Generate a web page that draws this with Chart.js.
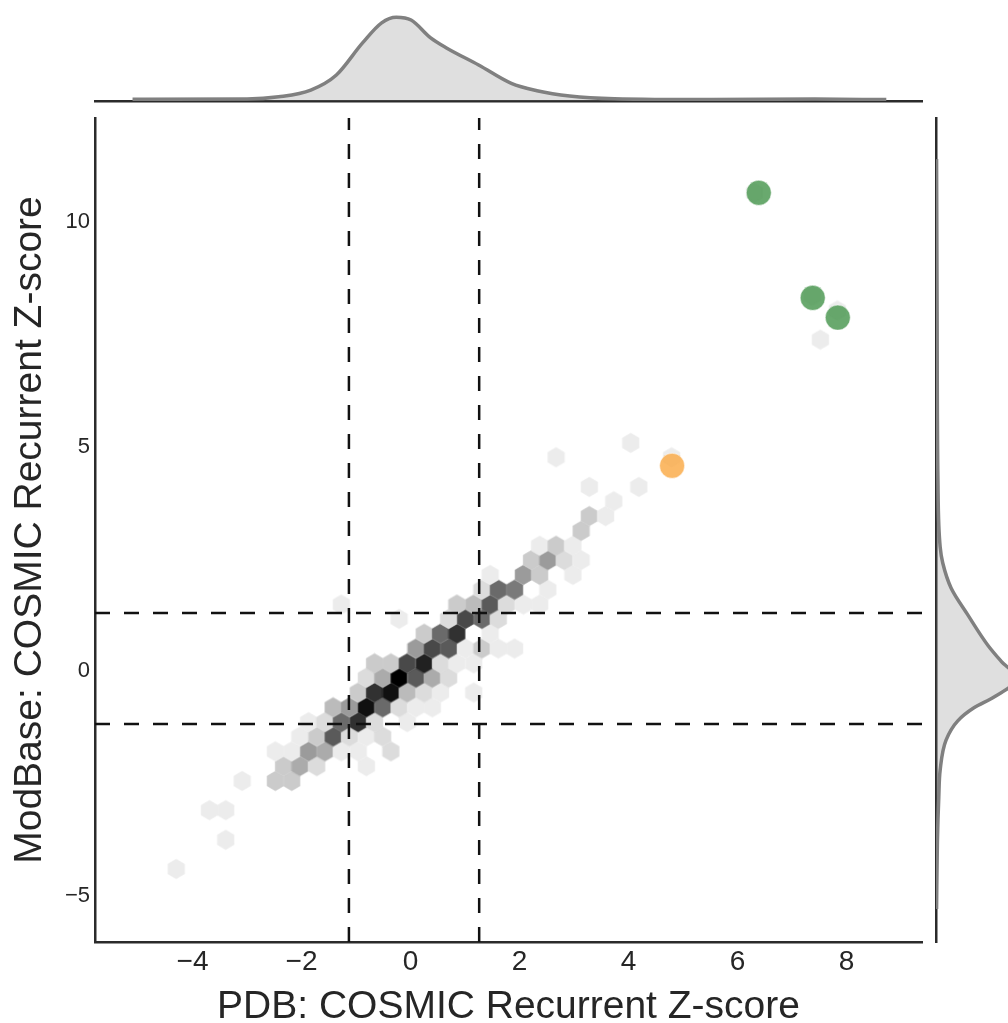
<!DOCTYPE html>
<html>
<head>
<meta charset="utf-8">
<script src="https://cdn.jsdelivr.net/npm/chart.js@4.4.1/dist/chart.umd.min.js"></script>
<style>
  html, body { margin: 0; padding: 0; background: #fff; overflow: hidden; }
  canvas { position: absolute; }
  #mainChart { left: 0; top: 0; }
  #topChart { left: 0; top: 0; }
  #rightChart { left: 900px; top: 0; }
</style>
</head>
<body>
<canvas id="mainChart" width="1008" height="1023"></canvas>
<canvas id="topChart" width="1008" height="110"></canvas>
<canvas id="rightChart" width="108" height="1023"></canvas>
<script>
// ── Hexbin cells: one lattice row per line (row y, cell x's, cell counts)
var hexRowY = [-4.41, -3.76, -3.10, -2.45, -2.12, -1.79, -1.46, -1.14, -0.81, -0.48,
               -0.15, 0.17, 0.50, 0.83, 1.16, 1.48, 1.81, 2.14, 2.47, 2.79,
               3.12, 3.45, 3.78, 4.10, 4.76, 5.08, 7.38, 8.03, 8.36, 10.65];
var hexRowX = [
  [-4.30],
  [-3.39],
  [-3.69, -3.39],
  [-3.09, -2.48, -2.18],
  [-2.33, -2.03, -1.72, -0.81],
  [-2.48, -2.18, -1.87, -1.57, -1.27, -0.96, -0.36],
  [-2.03, -1.72, -1.42, -1.12, -0.81, -0.51],
  [-1.87, -1.57, -1.27, -0.96, -0.66, -0.06],
  [-1.42, -1.12, -0.81, -0.51, -0.21, 0.10, 0.40],
  [-0.96, -0.66, -0.36, -0.06, 0.25, 0.55, 1.16],
  [-0.81, -0.51, -0.21, 0.10, 0.40, 0.70],
  [-0.66, -0.36, -0.06, 0.25, 0.55, 0.85, 1.16],
  [0.10, 0.40, 0.70, 1.01, 1.31, 1.61, 1.91],
  [0.25, 0.55, 0.85, 1.46],
  [-0.21, 0.70, 1.01, 1.31, 1.61],
  [-1.27, 0.85, 1.16, 1.46, 1.76, 2.07, 2.37],
  [1.31, 1.61, 1.91, 2.52],
  [1.46, 2.07, 2.37, 2.98],
  [2.22, 2.52, 2.82, 3.13],
  [2.37, 2.67, 2.98],
  [3.13],
  [3.28, 3.58],
  [3.73],
  [3.28, 4.19],
  [2.67, 4.79],
  [4.04],
  [7.52],
  [7.83],
  [7.37],
  [6.31]
];
var hexRowCount = [
  [1],
  [1],
  [1, 1],
  [1, 5, 5],
  [5, 9, 3, 1],
  [1, 1, 11, 9, 1, 1, 3],
  [1, 5, 19, 3, 1, 3],
  [1, 3, 17, 24, 3, 1],
  [7, 11, 28, 17, 3, 1, 1],
  [5, 24, 28, 7, 3, 1, 1],
  [3, 9, 30, 19, 9, 3],
  [5, 5, 21, 26, 3, 1, 1],
  [11, 21, 19, 1, 5, 1, 1],
  [5, 17, 24, 1],
  [1, 3, 21, 17, 3],
  [1, 5, 7, 19, 3, 1, 1],
  [3, 17, 15, 1],
  [1, 11, 5, 1],
  [5, 11, 3, 1],
  [1, 5, 1],
  [5],
  [5, 1],
  [1],
  [1, 1],
  [1, 1],
  [1],
  [1],
  [1],
  [1],
  [1]
];

// highlighted points
var greenX = [6.39, 7.38, 7.84];
var greenY = [10.65, 8.31, 7.87];
var orangeX = [4.80];
var orangeY = [4.57];

// threshold lines
var vLineX = [-1.13, 1.26];
var hLineY = [1.29, -1.18];

// marginal KDEs
var topX = [-5.1, -3.0, -2.42, -1.83, -1.36, -0.88, -0.53, -0.26, 0.01, 0.37, 0.66, 1.25, 1.85, 2.32, 2.92, 3.74, 5.52, 7.42, 8.73];
var topD = [0.006, 0.007, 0.015, 0.039, 0.093, 0.208, 0.28, 0.30, 0.29, 0.226, 0.19, 0.129, 0.063, 0.037, 0.018, 0.008, 0.005, 0.007, 0.005];
var rightY = [-5.3, -3.8, -2.81, -2.2, -1.54, -1.11, -0.82, -0.58, -0.17, 0.22, 0.58, 1.25, 1.85, 2.41, 2.76, 4.23, 8.0, 11.4];
var rightD = [0.002, 0.005, 0.010, 0.015, 0.036, 0.078, 0.136, 0.208, 0.29, 0.233, 0.185, 0.114, 0.054, 0.024, 0.015, 0.007, 0.004, 0.002];

// ticks
var xTicks = [-4, -2, 0, 2, 4, 6, 8];
var yTicks = [-5, 0, 5, 10];

// axis limits / geometry
var X_MIN = -5.789, X_MAX = 9.385;
var Y_MIN = -6.036, Y_MAX = 12.316;
var TOP_D_MAX = 0.326, RIGHT_D_MAX = 0.258;
var HEX_DX = 0.3031;   // hex width (data units)
var HEX_DY = 0.6548;   // hex lattice row pitch (data units)
var COUNT_MAX = 30;

var FONT = "'Liberation Sans', Arial, sans-serif";
var INK = '#262626';
var SPINE = '#2b2b2b';

Chart.defaults.font.family = FONT;

function fmtTick(v) {
  return v < 0 ? '\u2212' + Math.abs(v) : String(v);
}

// hexagon pointStyle images, cached by grey level + size
var hexCache = {};
function hexGray(c) {
  return Math.round(236 * (1 - (c - 1) / (COUNT_MAX - 1)));
}
function hexStyle(ctx) {
  var raw = ctx.raw;
  if (!raw) return 'circle';
  var sx = ctx.chart.scales.x, sy = ctx.chart.scales.y;
  var w = Math.abs(sx.getPixelForValue(HEX_DX) - sx.getPixelForValue(0));
  var h = Math.abs(sy.getPixelForValue(HEX_DY) - sy.getPixelForValue(0)) * 2 / 3;
  var g = hexGray(raw.c);
  var key = g + '_' + w.toFixed(2) + '_' + h.toFixed(2);
  if (!hexCache[key]) {
    var cv = document.createElement('canvas');
    cv.width = Math.ceil(w) + 2;
    cv.height = Math.ceil(h) + 2;
    var c2 = cv.getContext('2d');
    var cx = cv.width / 2, cy = cv.height / 2;
    c2.beginPath();
    c2.moveTo(cx, cy - h / 2);
    c2.lineTo(cx + w / 2, cy - h / 4);
    c2.lineTo(cx + w / 2, cy + h / 4);
    c2.lineTo(cx, cy + h / 2);
    c2.lineTo(cx - w / 2, cy + h / 4);
    c2.lineTo(cx - w / 2, cy - h / 4);
    c2.closePath();
    var col = 'rgb(' + g + ',' + g + ',' + g + ')';
    c2.fillStyle = col;
    c2.fill();
    c2.strokeStyle = col;
    c2.lineWidth = 0.6;
    c2.stroke();
    hexCache[key] = cv;
  }
  return hexCache[key];
}

var hexCells = [];
hexRowY.forEach(function(y, r) {
  hexRowX[r].forEach(function(x, k) {
    hexCells.push({x: x, y: y, c: hexRowCount[r][k]});
  });
});

var dashSets = [];
vLineX.forEach(function(x) {
  dashSets.push({data: [{x: x, y: Y_MIN}, {x: x, y: Y_MAX}]});
});
hLineY.forEach(function(y) {
  dashSets.push({data: [{x: X_MIN, y: y}, {x: X_MAX, y: y}]});
});
dashSets = dashSets.map(function(d) {
  return {
    data: d.data, showLine: true, borderColor: '#111', borderWidth: 2.5,
    borderDash: [15, 14], pointRadius: 0, fill: false, order: 1
  };
});

// ── main joint panel
new Chart(document.getElementById('mainChart'), {
  type: 'scatter',
  data: {
    datasets: [
      {
        label: 'green', order: 0,
        data: greenX.map(function(x, i){ return {x: x, y: greenY[i]}; }),
        pointRadius: 12.5, backgroundColor: 'rgba(72,150,78,0.82)',
        borderColor: 'rgba(255,255,255,0.5)', borderWidth: 1
      },
      {
        label: 'orange', order: 0,
        data: orangeX.map(function(x, i){ return {x: x, y: orangeY[i]}; }),
        pointRadius: 12.5, backgroundColor: 'rgba(250,170,70,0.82)',
        borderColor: 'rgba(255,255,255,0.5)', borderWidth: 1
      }
    ].concat(dashSets).concat([
      {
        label: 'hexbin', order: 2,
        data: hexCells,
        pointStyle: hexStyle,
        pointRadius: 9
      }
    ])
  },
  options: {
    responsive: false,
    animation: false,
    events: [],
    layout: { padding: { top: 118, right: 86, left: 0, bottom: 0 } },
    plugins: { legend: { display: false }, tooltip: { enabled: false } },
    scales: {
      x: {
        type: 'linear', min: X_MIN, max: X_MAX,
        afterBuildTicks: function(s){ s.ticks = xTicks.map(function(v){ return {value: v}; }); },
        afterFit: function(s){ s.height = 81; },
        grid: { display: false, drawTicks: false },
        border: { display: true, color: SPINE, width: 2.5 },
        ticks: { padding: 3, color: INK, font: { size: 28 }, callback: fmtTick, autoSkip: false, maxRotation: 0 },
        title: { display: true, text: 'PDB: COSMIC Recurrent Z-score', color: INK,
                 font: { size: 39, lineHeight: 0.8 }, padding: 0 }
      },
      y: {
        type: 'linear', min: Y_MIN, max: Y_MAX,
        afterBuildTicks: function(s){ s.ticks = yTicks.map(function(v){ return {value: v}; }); },
        afterFit: function(s){ s.width = 95; },
        grid: { display: false, drawTicks: false },
        border: { display: true, color: SPINE, width: 2.5 },
        ticks: { padding: 5, color: INK, font: { size: 22 }, callback: fmtTick, autoSkip: false },
        title: { display: true, text: 'ModBase: COSMIC Recurrent Z-score', color: INK,
                 font: { size: 39, lineHeight: 0.8 }, padding: { top: 15, bottom: 0 } }
      }
    }
  }
});

// ── top marginal KDE
new Chart(document.getElementById('topChart'), {
  type: 'line',
  data: {
    datasets: [{
      data: topX.map(function(x, i){ return {x: x, y: topD[i]}; }),
      borderColor: '#808080', borderWidth: 3.5,
      backgroundColor: 'rgba(128,128,128,0.25)', fill: 'origin',
      pointRadius: 0, cubicInterpolationMode: 'monotone'
    }]
  },
  options: {
    responsive: false, animation: false, events: [],
    layout: { padding: { left: 95, right: 86, top: 10, bottom: 0 } },
    plugins: { legend: { display: false }, tooltip: { enabled: false } },
    scales: {
      x: {
        type: 'linear', min: X_MIN, max: X_MAX,
        ticks: { display: false },
        grid: { display: false, drawTicks: false },
        border: { display: true, color: SPINE, width: 2.5 },
        afterFit: function(s){ s.height = 9; }
      },
      y: { type: 'linear', min: 0, max: TOP_D_MAX, display: false }
    }
  }
});

// ── right marginal KDE
new Chart(document.getElementById('rightChart'), {
  type: 'line',
  data: {
    datasets: [{
      data: rightY.map(function(y, i){ return {x: rightD[i], y: y}; }),
      borderColor: '#808080', borderWidth: 3.5,
      backgroundColor: 'rgba(128,128,128,0.25)', fill: 'origin',
      pointRadius: 0, cubicInterpolationMode: 'monotone'
    }]
  },
  options: {
    indexAxis: 'y',
    responsive: false, animation: false, events: [],
    layout: { padding: { left: 0, right: 0, top: 118, bottom: 81 } },
    plugins: { legend: { display: false }, tooltip: { enabled: false } },
    scales: {
      y: {
        type: 'linear', position: 'left', min: Y_MIN, max: Y_MAX,
        ticks: { display: false },
        grid: { display: false, drawTicks: false },
        border: { display: true, color: SPINE, width: 2.5 },
        afterFit: function(s){ s.width = 36; }
      },
      x: { type: 'linear', min: 0, max: RIGHT_D_MAX, display: false }
    }
  }
});
</script>
</body>
</html>
